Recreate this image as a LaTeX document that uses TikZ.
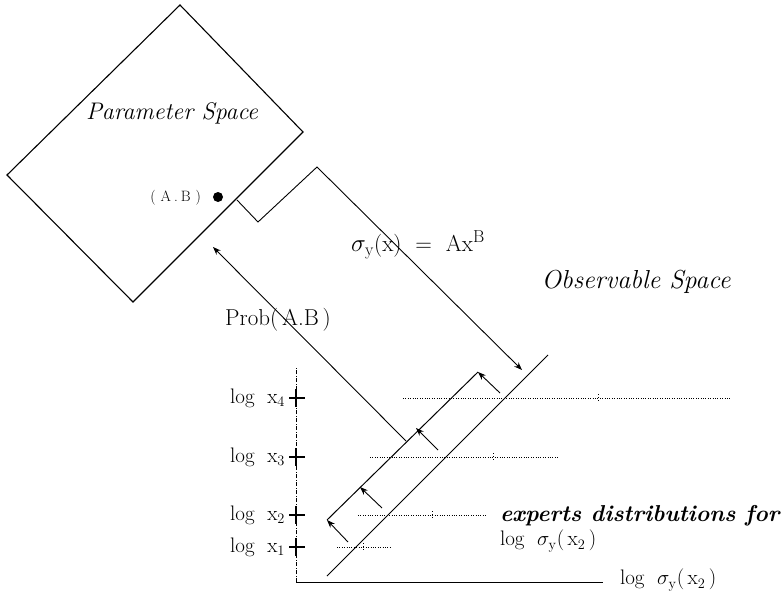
\documentclass[tikz,border=0pt]{standalone}
\usetikzlibrary{arrows.meta}
\begin{document}
\begin{tikzpicture}[x=1pt,y=-1pt,
  every node/.style={inner sep=0pt, outer sep=0pt},
  frame/.style={line width=1.1pt, line join=miter},
  arr/.style={line width=0.9pt, -{Stealth[length=8pt,width=6pt]}},
  band/.style={line width=1pt},
  dots/.style={line width=0.8pt, dash pattern=on 0.8pt off 1.6pt},
  axis/.style={line width=0.9pt},
  vaxis/.style={line width=0.6pt, dash pattern=on 4pt off 1.5pt on 1pt off 1.5pt},
  tick/.style={line width=1.2pt},
  lab/.style={font=\fontsize{21}{24}\selectfont},
  big/.style={font=\fontsize{23}{26}\selectfont},
  small/.style={font=\fontsize{15}{17}\selectfont},
  pscript/.style={font=\fontsize{24}{28}\selectfont\itshape},
  oscript/.style={font=\fontsize{26}{30}\selectfont\itshape},
  bscript/.style={font=\fontsize{23}{27}\selectfont\bfseries\itshape},
]
\useasboundingbox (0,0) rectangle (784,599);

% Parameter space
\coordinate (PT) at (180,5);
\coordinate (PR) at (303,132);
\coordinate (PB) at (133,302);
\coordinate (PL) at (7,175);
\draw[frame] (PT) -- (PR) -- (PB) -- (PL) -- cycle;
\node[pscript] (ps) at (172,113) {Parameter Space};
\node[small, anchor=east] (ab) at (201,198) {(\hspace{5pt}A\hspace{3pt}.\hspace{3pt}B\hspace{5pt})};
\node[circle, fill, minimum size=10pt] (abdot) at (218,197) {};

% mapping arrow
\coordinate (N0) at (237,200);
\coordinate (N1) at (258,222);
\coordinate (N2) at (317,167);
\coordinate (Ntip) at (522,370);
\draw[arr] (N0) -- (N1) -- (N2) -- (Ntip);
\node[big] (sig) at (418,245) {$\sigma_{\mathrm{y}}$(x)\ \ =\ \ Ax$^{\mathrm{B}}$};

% Prob arrow
\coordinate (Pstart) at (406,441);
\coordinate (Ptip) at (213,247);
\draw[arr] (Pstart) -- (Ptip);
\node[big] (prob) at (278,320) {Prob(\,A.B\,)};

\node[oscript] (os) at (636,282) {Observable Space};

% axes
\coordinate (O) at (296,582);
\coordinate (Ytop) at (296,367);
\coordinate (Xend) at (603,582);
\draw[vaxis] (O) -- (Ytop);
\draw[axis] (O) -- (Xend);
\node[lab, anchor=west] (xl) at (620,580) {log\hspace{0.6em}$\sigma_{\mathrm{y}}$(\,x$_2$\,)};

% ticks and labels
\foreach \n/\y in {4/398,3/457,2/515,1/547}{
  \draw[tick] (289,\y) -- (305,\y);
  \draw[tick] (296,\y-9) -- (296,\y+9);
  \node[lab, anchor=east] (lx\n) at (285,\y) {log\hspace{0.6em}x$_{\n}$};
}

% dotted expert distributions
\draw[dots] (403,398) -- (730,398);
\draw[dots] (370,457) -- (558,457);
\draw[dots] (358,515) -- (487,515);
\draw[dots] (337,547) -- (390,547);
\foreach \x/\y in {598/398,493/457,432/515,363/547}{
  \draw[line width=0.8pt, dash pattern=on 1pt off 2pt] (\x,\y-4) -- (\x,\y+4);
}

% band
\coordinate (U0) at (327,520);
\coordinate (U1) at (478,372);
\coordinate (L0) at (327,576);
\coordinate (L1) at (548,355);
\draw[band] (U0) -- (U1);
\draw[band] (L0) -- (L1);

\coordinate (a1s) at (348,542); \coordinate (a1t) at (U0);
\coordinate (a2s) at (382,508); \coordinate (a2t) at (360,487);
\coordinate (a3s) at (438,450); \coordinate (a3t) at (416,428);
\coordinate (a4s) at (500,393); \coordinate (a4t) at (U1);
\foreach \i in {1,2,3,4}{ \draw[arr] (a\i s) -- (a\i t); }

\node[bscript, anchor=west] (exp) at (500,516) {experts distributions for};
\node[lab, anchor=west] (expl) at (500,541) {log\hspace{0.6em}$\sigma_{\mathrm{y}}$(\,x$_2$\,)};
\end{tikzpicture}
\end{document}
